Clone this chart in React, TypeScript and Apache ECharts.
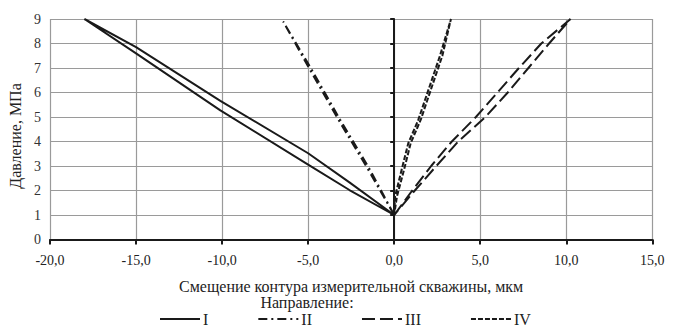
import React, { useEffect, useRef } from "react";
import * as echarts from "echarts";

// Direction I (solid): loading branch up, unloading branch down
const dirIX = [0, -2.6, -5.0, -10.1, -15.0, -18.0, -15.0, -10.1, -5.0, -2.6, 0];
const dirIY = [1, 2.33, 3.52, 5.66, 7.85, 9, 7.6, 5.27, 3.06, 2.02, 1];
// Direction II (dash-dot)
const dirIIX = [0, -1.55, -3.25, -4.95, -6.45, -4.85, -3.15, -1.45, 0];
const dirIIY = [1, 2.9, 4.9, 7.0, 8.9, 7.0, 4.9, 2.9, 1];
// Direction III (long dash)
const dirIIIX = [0, 1.05, 2.15, 3.35, 4.75, 6.0, 7.25, 8.55, 10.25, 9.0, 7.8, 6.6, 5.3, 3.72, 2.45, 1.2, 0];
const dirIIIY = [1, 2, 3, 4, 5, 6, 7, 8, 9, 8, 7, 6, 5, 4, 3, 2, 1];
// Direction IV (short dash)
const dirIVX = [0, 0.05, 0.43, 0.82, 1.4, 2.66, 3.3, 2.8, 1.54, 0.96, 0.57, 0.16, 0];
const dirIVY = [1, 1.75, 2.84, 3.93, 4.88, 7.5, 9, 7.5, 4.88, 3.93, 2.84, 1.75, 1];

const seriesNames = ["I", "II", "III", "IV"];
const xTitle = "Смещение контура измерительной скважины, мкм";
const yTitle = "Давление, МПа";
const legendTitle = "Направление:";

const FONT = "Liberation Serif, Times New Roman, serif";
const INK = "#1a1a1a";

function pairs(xs: number[], ys: number[]) {
  return xs.map((x, i) => [x, ys[i]]);
}

export default function App() {
  const ref = useRef<HTMLDivElement>(null);
  useEffect(() => {
    if (!ref.current) return;
    const chart = echarts.init(ref.current, null, { renderer: "svg" });
    const dashes: any[] = ["solid", [9, 4, 2, 4], [13, 5], [5, 2]];
    const data = [
      pairs(dirIX, dirIY),
      pairs(dirIIX, dirIIY),
      pairs(dirIIIX, dirIIIY),
      pairs(dirIVX, dirIVY),
    ];
    chart.setOption({
      animation: false,
      textStyle: { fontFamily: FONT },
      grid: { left: 50, right: 30.7, top: 19, bottom: 87.5, containLabel: false },
      xAxis: {
        type: "value",
        min: -20,
        max: 15,
        interval: 5,
        name: xTitle,
        nameLocation: "middle",
        nameGap: 39,
        nameTextStyle: { fontFamily: FONT, fontSize: 16, color: "#222" },
        axisLine: { onZero: false, lineStyle: { color: INK, width: 2 } },
        axisTick: { show: true, length: 5, lineStyle: { color: INK, width: 2 } },
        axisLabel: {
          fontFamily: FONT,
          fontSize: 14,
          color: "#222",
          margin: 14,
          formatter: (v: number) => v.toFixed(1).replace(".", ","),
        },
        splitLine: { show: true, lineStyle: { color: "#9a9a9a", width: 1.2 } },
      },
      yAxis: {
        type: "value",
        min: 0,
        max: 9,
        interval: 1,
        axisLine: { show: true, onZero: true, lineStyle: { color: INK, width: 2 } },
        axisTick: { show: true, length: 4, lineStyle: { color: INK, width: 2 } },
        axisLabel: { fontFamily: FONT, fontSize: 14, color: "#333", margin: 9 },
        splitLine: { show: true, lineStyle: { color: "#9a9a9a", width: 1.2 } },
      },
      legend: {
        left: 159,
        top: 311,
        padding: 0,
        itemWidth: 40,
        itemHeight: 10,
        itemGap: 49,
        itemStyle: { opacity: 0, color: "rgba(0,0,0,0)", borderWidth: 0 },
        textStyle: { fontFamily: FONT, fontSize: 16, color: "#222", padding: [0, 0, 0, -2] },
        data: seriesNames,
      },
      graphic: [
        {
          type: "text",
          x: 15,
          y: 136,
          rotation: Math.PI / 2,
          style: {
            text: yTitle,
            fontFamily: FONT,
            fontSize: 16,
            fill: "#222",
            align: "center",
            verticalAlign: "middle",
          },
        },
        {
          type: "text",
          x: 307,
          y: 302,
          style: {
            text: legendTitle,
            fontFamily: FONT,
            fontSize: 16,
            fill: "#222",
            align: "center",
            verticalAlign: "middle",
          },
        },
      ],
      series: seriesNames.map((name, i) => ({
        name,
        type: "line",
        data: data[i],
        symbol: "none",
        showSymbol: false,
        smooth: false,
        lineStyle: { color: INK, width: 2, type: dashes[i] },
        itemStyle: { color: INK },
      })),
    });
    return () => chart.dispose();
  }, []);
  return (
    <div
      ref={ref}
      style={{ position: "fixed", left: 0, top: 0, width: 683, height: 327, background: "#fff" }}
    />
  );
}
